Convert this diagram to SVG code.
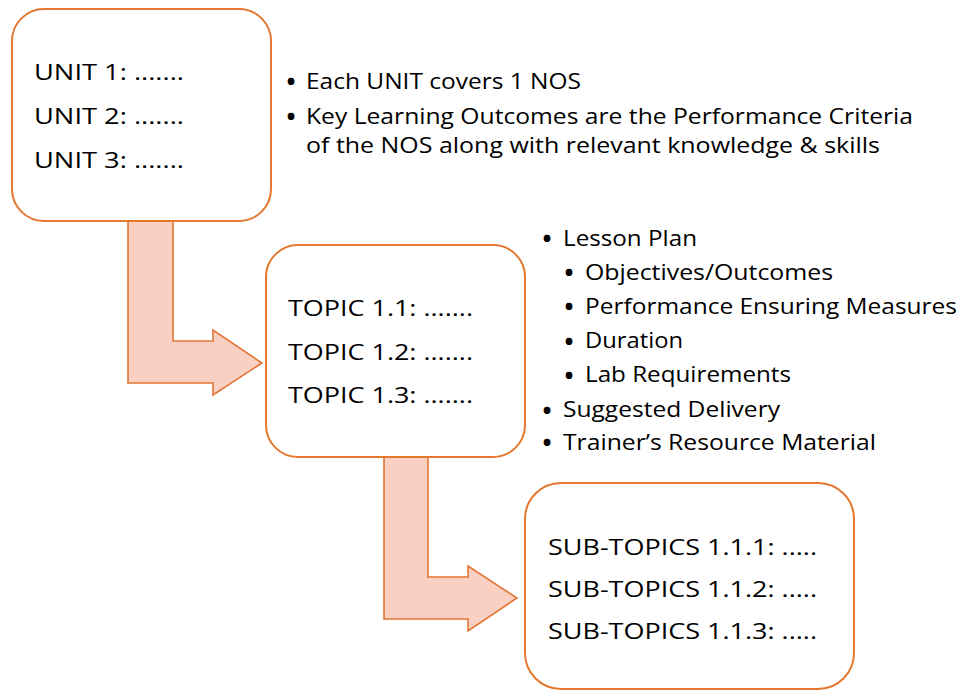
<svg xmlns="http://www.w3.org/2000/svg" width="959" height="691" viewBox="0 0 959 691">
<style>
.box{fill:#ffffff;stroke:#e4782e;stroke-width:2}
.arrow{fill:#f9d0c1;stroke:#e27636;stroke-width:1.6;stroke-linejoin:miter}
text{font-family:"Open Sans","Noto Sans","Liberation Sans",sans-serif;font-size:22px;fill:#000000}
tspan.b{font-size:24px;font-weight:bold}
</style>
<rect width="959" height="691" fill="#ffffff"/>
<g id="connectors">
<path class="arrow" d="M128,221 L173,221 L173,341 L213,341 L213,330 L262,363 L213,395 L213,383 L128,383 Z"/>
<path class="arrow" d="M384,457 L428,457 L428,577 L468,577 L468,566 L517,598 L468,631 L468,619 L384,619 Z"/>
</g>
<g id="unit-box">
<rect class="box" x="12" y="9" width="259" height="212" rx="32" ry="32"/>
<text x="34" y="80" textLength="150" lengthAdjust="spacingAndGlyphs">UNIT 1: .......</text>
<text x="34" y="124" textLength="150" lengthAdjust="spacingAndGlyphs">UNIT 2: .......</text>
<text x="34" y="168" textLength="150" lengthAdjust="spacingAndGlyphs">UNIT 3: .......</text>
</g>
<g id="unit-notes">
<text x="286.5" y="89.5"><tspan class="b">•</tspan><tspan x="306" y="89" textLength="275" lengthAdjust="spacingAndGlyphs">Each UNIT covers 1 NOS</tspan></text>
<text x="286.5" y="124.5"><tspan class="b">•</tspan><tspan x="306" y="124" textLength="607" lengthAdjust="spacingAndGlyphs">Key Learning Outcomes are the Performance Criteria</tspan></text>
<text x="306" y="153" textLength="574" lengthAdjust="spacingAndGlyphs">of the NOS along with relevant knowledge &amp; skills</text>
</g>
<g id="topic-box">
<rect class="box" x="266" y="245" width="259" height="212" rx="32" ry="32"/>
<text x="288" y="316" textLength="185" lengthAdjust="spacingAndGlyphs">TOPIC 1.1: .......</text>
<text x="288" y="360" textLength="185" lengthAdjust="spacingAndGlyphs">TOPIC 1.2: .......</text>
<text x="288" y="403" textLength="185" lengthAdjust="spacingAndGlyphs">TOPIC 1.3: .......</text>
</g>
<g id="topic-notes">
<text x="542.5" y="246.5"><tspan class="b">•</tspan><tspan x="563" y="246" textLength="134" lengthAdjust="spacingAndGlyphs">Lesson Plan</tspan></text>
<text x="564.5" y="280.5"><tspan class="b">•</tspan><tspan x="585" y="280" textLength="248" lengthAdjust="spacingAndGlyphs">Objectives/Outcomes</tspan></text>
<text x="564.5" y="314.5"><tspan class="b">•</tspan><tspan x="585" y="314" textLength="372" lengthAdjust="spacingAndGlyphs">Performance Ensuring Measures</tspan></text>
<text x="564.5" y="349.5"><tspan class="b">•</tspan><tspan x="585" y="348" textLength="98" lengthAdjust="spacingAndGlyphs">Duration</tspan></text>
<text x="564.5" y="383.5"><tspan class="b">•</tspan><tspan x="585" y="382" textLength="206" lengthAdjust="spacingAndGlyphs">Lab Requirements</tspan></text>
<text x="542.5" y="418.5"><tspan class="b">•</tspan><tspan x="563" y="417" textLength="217" lengthAdjust="spacingAndGlyphs">Suggested Delivery</tspan></text>
<text x="542.5" y="450.5"><tspan class="b">•</tspan><tspan x="563" y="450" textLength="313" lengthAdjust="spacingAndGlyphs">Trainer’s Resource Material</tspan></text>
</g>
<g id="subtopic-box">
<rect class="box" x="525" y="483" width="329" height="206" rx="36" ry="36"/>
<text x="548" y="555" textLength="269" lengthAdjust="spacingAndGlyphs">SUB-TOPICS 1.1.1: .....</text>
<text x="548" y="597" textLength="269" lengthAdjust="spacingAndGlyphs">SUB-TOPICS 1.1.2: .....</text>
<text x="548" y="639" textLength="269" lengthAdjust="spacingAndGlyphs">SUB-TOPICS 1.1.3: .....</text>
</g>
</svg>
